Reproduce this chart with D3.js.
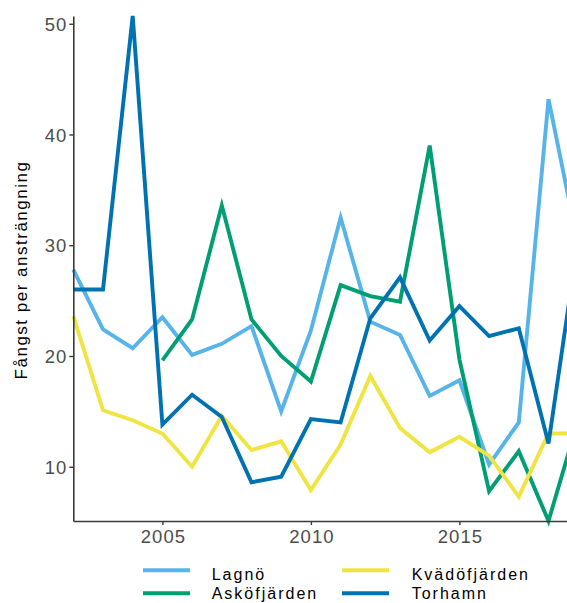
<!DOCTYPE html>
<html><head><meta charset="utf-8">
<script src="https://cdn.jsdelivr.net/npm/d3@7"></script>
<style>body{margin:0;background:#fff}svg{display:block}</style>
</head><body>
<svg id="c" width="567" height="603"></svg>
<script>
const years = [2002,2003,2004,2005,2006,2007,2008,2009,2010,2011,2012,2013,2014,2015,2016,2017,2018,2019];
const lagno = [27.8,22.4,20.7,23.5,20.1,21.1,22.7,15.0,22.3,32.5,23.1,21.9,16.4,17.8,10.2,14.0,43.2,30.0];
const asko = [null,null,null,19.6,23.3,33.6,23.3,20.0,17.7,26.4,25.4,24.9,39.0,19.7,7.8,11.4,5.1,14.2];
const kvado = [23.6,15.1,14.2,13.0,10.0,14.6,11.5,12.3,7.9,12.0,18.2,13.5,11.3,12.7,11.0,7.3,13.0,13.0];
const torhamn = [26.0,26.0,50.7,13.8,16.5,14.5,8.6,9.1,14.3,14.0,23.4,27.1,21.4,24.5,21.8,22.5,12.1,30.5];
const seriesNames = ["Lagnö","Asköfjärden","Kvädöfjärden","Torhamn"];
const seriesColors = ["#56B4E9","#009E73","#F0E442","#0072B2"];
const xTicks = [2005,2010,2015];
const yTicks = [10,20,30,40,50];
const yTitle = "Fångst per ansträngning";

(function(){
const svg = d3.select("#c");
const mLeft = 73.3, mTop = 16, mBottom = 521;
const all = [lagno,asko,kvado,torhamn].flat().filter(v=>v!=null);
const x = d3.scaleLinear().domain([2002,2019]).range([mLeft, mLeft + 17*29.7]);
const y = d3.scaleLinear().domain(d3.extent(all)).range([mBottom, mTop]);

const data = [lagno,asko,kvado,torhamn];
const line = d3.line().defined(d=>d.v!=null).x(d=>x(d.yr)).y(d=>y(d.v));
data.forEach((arr,i)=>{
  svg.append("path")
    .datum(years.map((yr,j)=>({yr, v: arr[j]})))
    .attr("d", line).attr("fill","none")
    .attr("stroke", seriesColors[i]).attr("stroke-width",3.9)
    .attr("stroke-linejoin","miter").attr("stroke-miterlimit",4);
});

const axisColor = "#3a3a3a";
const yAx = svg.append("g").attr("transform",`translate(${mLeft},0)`)
  .call(d3.axisLeft(y).tickValues(yTicks).tickSize(4).tickPadding(3).tickSizeOuter(0));
const xAx = svg.append("g").attr("transform",`translate(0,${mBottom})`)
  .call(d3.axisBottom(x).tickValues(xTicks).tickFormat(d3.format("d")).tickSize(4).tickPadding(5).tickSizeOuter(0));
[yAx,xAx].forEach(g=>{
  g.select(".domain").attr("stroke",axisColor).attr("stroke-width",1.6);
  g.selectAll(".tick line").attr("stroke",axisColor).attr("stroke-width",1.4);
  g.selectAll(".tick text").attr("fill","#4D4D4D")
    .style("font-family","'Liberation Sans', Arial, sans-serif")
    .style("font-size","18.5px").style("letter-spacing","1px");
});
yAx.selectAll(".tick text").attr("dx","1px").attr("dy","0.36em");
xAx.selectAll(".tick text").attr("dx","0.5px");

svg.append("text")
  .attr("transform",`translate(27,${(160+380)/2}) rotate(-90)`)
  .attr("text-anchor","middle")
  .style("font-family","'Liberation Sans', Arial, sans-serif")
  .style("font-size","17px").style("letter-spacing","1.5px")
  .attr("fill","#000").text(yTitle);

const legX = [143, 342], legTextX = [211.7, 411.7];
const keyY = [570.3, 593.3], txtY = [580.3, 598.8];
seriesNames.forEach((n,i)=>{
  const col = Math.floor(i/2), row = i%2;
  svg.append("line").attr("x1",legX[col]).attr("x2",legX[col]+47)
    .attr("y1",keyY[row]).attr("y2",keyY[row])
    .attr("stroke",seriesColors[i]).attr("stroke-width",4);
  svg.append("text").attr("x",legTextX[col]).attr("y",txtY[row])
    .style("font-family","'Liberation Sans', Arial, sans-serif")
    .style("font-size","16px").style("letter-spacing","2px")
    .attr("fill","#000").text(n);
});
})();
</script>
</body></html>
